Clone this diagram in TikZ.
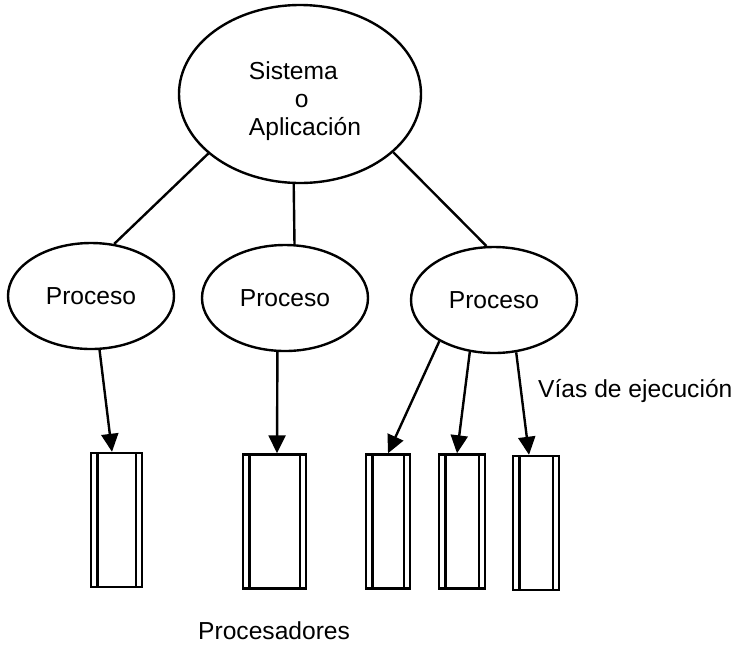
\documentclass[tikz,border=0pt]{standalone}
\usepackage{fontspec}
\setmainfont{Liberation Sans}
\usetikzlibrary{shapes.geometric,arrows.meta}
\begin{document}
\begin{tikzpicture}[x=0.5pt,y=-0.5pt, line width=1.2pt,
  every node/.style={font=\fontsize{12.3}{14}\selectfont},
  ell/.style={draw, ellipse, inner sep=0pt},
  procell/.style={ell, minimum width=83pt, minimum height=53pt},
  cpu/.style={draw, rectangle, minimum height=67pt, inner sep=0pt,
    path picture={\draw[line width=1.1pt]
      ([xshift=3.2pt]path picture bounding box.north west) -- ([xshift=3.2pt]path picture bounding box.south west)
      ([xshift=-3.2pt]path picture bounding box.north east) -- ([xshift=-3.2pt]path picture bounding box.south east);}},
  arr/.style={-{Triangle[length=9pt,width=8.5pt]}},
  lbl/.style={anchor=base west, inner sep=0pt}]
\useasboundingbox (0,0) rectangle (742,654);

\node[ell, minimum width=121pt, minimum height=89pt] (sys) at (300,94) {};
\node[align=left, inner sep=0pt] (systxt) at (305,101)
  {Sistema\\\hspace*{23pt}o\\Aplicación};

\node[procell] (p1) at (91,296) {Proceso};
\node[procell] (p2) at (285,298) {Proceso};
\node[procell] (p3) at (494,300) {Proceso};

\node[cpu, minimum width=25.5pt] (r1) at (116.5,520) {};
\node[cpu, minimum width=31.5pt] (r2) at (274.5,521.5) {};
\node[cpu, minimum width=22pt] (r3) at (388,521.5) {};
\node[cpu, minimum width=23pt] (r4) at (462,521.5) {};
\node[cpu, minimum width=23pt] (r5) at (536,523) {};

\draw (sys.213) -- (p1.66);
\draw (sys.266) -- (p2.80);
\draw (sys.328) -- (p3.98);

\draw[arr] (p1.279) -- ([xshift=-2.25pt]r1.north);
\draw[arr] (p2.262) -- ([xshift=1.25pt]r2.north);
\draw[arr] (p3.217) -- (r3.north);
\draw[arr] (p3.245) -- ([xshift=-2.5pt]r4.north);
\draw[arr] (p3.293) -- ([xshift=-3.5pt]r5.north);

\node[lbl] (vias) at (537,397) {Vías de ejecución};
\node[lbl] (procs) at (197,639) {Procesadores};
\end{tikzpicture}
\end{document}
